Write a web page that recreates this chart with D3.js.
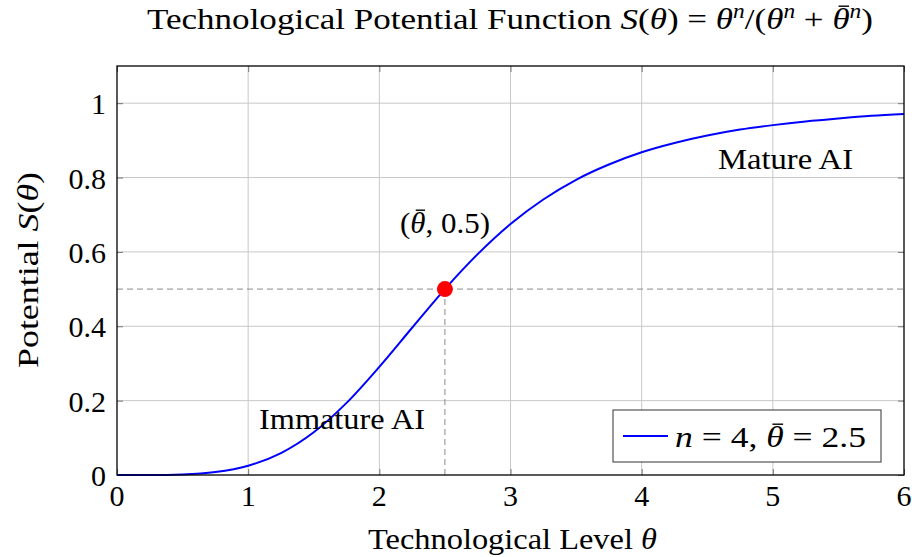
<!DOCTYPE html>
<html><head><meta charset="utf-8">
<script src="https://cdn.jsdelivr.net/npm/d3@7"></script>
<style>
body{margin:0;background:#fff;}
svg text{font-family:"Liberation Serif","Times New Roman",serif;fill:#000;}
</style></head>
<body><svg id="c" width="912" height="557"></svg>
<script>
// data
const theta = [0,0.25,0.5,0.75,1.0,1.25,1.5,1.75,2.0,2.25,2.5,2.75,3.0,3.25,3.5,3.75,4.0,4.25,4.5,4.75,5.0,5.25,5.5,5.75,6.0];
const potential = [0,0.0001,0.0016,0.008,0.025,0.059,0.115,0.194,0.291,0.396,0.5,0.594,0.675,0.741,0.794,0.835,0.868,0.893,0.913,0.929,0.941,0.951,0.959,0.966,0.971];
const xTicks = [0,1,2,3,4,5,6];
const yTicks = [0,0.2,0.4,0.6,0.8,1];
const yTickLabels = ["0","0.2","0.4","0.6","0.8","1"];
const marker = {theta:2.5, s:0.5};

const svg = d3.select("#c");
const L=117,R=904,T=66,B=475;
const FS=30;
const x = d3.scaleLinear().domain([0,6]).range([L,R]);
const y = d3.scaleLinear().domain([0,1.1]).range([B,T]);

// grid
svg.append("g").selectAll("line").data(xTicks.slice(1,-1)).join("line")
  .attr("x1",d=>x(d)).attr("x2",d=>x(d)).attr("y1",T).attr("y2",B)
  .attr("stroke","#c8c8c8").attr("stroke-width",1);
svg.append("g").selectAll("line").data(yTicks.slice(1)).join("line")
  .attr("x1",L).attr("x2",R).attr("y1",d=>y(d)).attr("y2",d=>y(d))
  .attr("stroke","#c8c8c8").attr("stroke-width",1);

// dashed guides
svg.append("line").attr("x1",x(0)).attr("x2",x(6)).attr("y1",y(marker.s)).attr("y2",y(marker.s))
  .attr("stroke","#8a8a8a").attr("stroke-dasharray","6,4").attr("stroke-width",1);
svg.append("line").attr("x1",x(marker.theta)).attr("x2",x(marker.theta)).attr("y1",y(0)).attr("y2",y(marker.s))
  .attr("stroke","#8a8a8a").attr("stroke-dasharray","6,4").attr("stroke-width",1);

// axis ticks (inside)
function styleAxis(g){g.select(".domain").remove();g.selectAll("line").attr("stroke","#777");}
svg.append("g").attr("transform",`translate(0,${B})`).call(d3.axisBottom(x).tickValues(xTicks).tickSize(-6).tickFormat("")).call(styleAxis);
svg.append("g").attr("transform",`translate(${L},0)`).call(d3.axisLeft(y).tickValues(yTicks).tickSize(-6).tickFormat("")).call(styleAxis);
svg.append("g").attr("transform",`translate(0,${T})`).call(d3.axisTop(x).tickValues(xTicks).tickSize(-6).tickFormat("")).call(styleAxis);
svg.append("g").attr("transform",`translate(${R},0)`).call(d3.axisRight(y).tickValues(yTicks).tickSize(-6).tickFormat("")).call(styleAxis);

// tick labels
svg.append("g").selectAll("text").data(xTicks).join("text")
  .attr("x",d=>x(d)).attr("y",B+31).attr("text-anchor","middle").attr("font-size",FS).text(d=>d);
svg.append("g").selectAll("text").data(yTicks).join("text")
  .attr("x",L-11).attr("y",d=>y(d)+11).attr("text-anchor","end").attr("font-size",FS).text((d,i)=>yTickLabels[i]);

// curve
const line = d3.line().x((d,i)=>x(theta[i])).y(d=>y(d)).curve(d3.curveMonotoneX);
svg.append("path").datum(potential).attr("d",line).attr("fill","none").attr("stroke","#0000ff").attr("stroke-width",2);

// frame
svg.append("rect").attr("x",L).attr("y",T).attr("width",R-L).attr("height",B-T)
  .attr("fill","none").attr("stroke","#000").attr("stroke-width",1.3);

// marker
svg.append("circle").attr("cx",x(marker.theta)).attr("cy",y(marker.s)).attr("r",8).attr("fill","#ff0000");

function fit(sel,w){sel.attr("textLength",w).attr("lengthAdjust","spacingAndGlyphs");return sel;}

// annotations
const ann = svg.append("text").attr("x",400).attr("y",233).attr("font-size",FS);
ann.append("tspan").text("(");
ann.append("tspan").attr("class","bar").attr("font-style","italic").text("θ");
ann.append("tspan").text(", 0.5)");
fit(ann,90);
fit(svg.append("text").attr("x",718).attr("y",169).attr("font-size",FS).text("Mature AI"),135);
fit(svg.append("text").attr("x",259).attr("y",429).attr("font-size",FS).text("Immature AI"),166);

// legend
svg.append("rect").attr("x",613).attr("y",410).attr("width",268).attr("height",52).attr("fill","#fff").attr("stroke","#333").attr("stroke-width",1);
svg.append("line").attr("x1",623).attr("x2",668).attr("y1",436).attr("y2",436).attr("stroke","#0000ff").attr("stroke-width",2);
const lg = svg.append("text").attr("x",675).attr("y",447).attr("font-size",FS);
lg.append("tspan").attr("font-style","italic").text("n");
lg.append("tspan").text(" = 4, ");
lg.append("tspan").attr("class","bar").attr("font-style","italic").text("θ");
lg.append("tspan").text(" = 2.5");
fit(lg,191);

// title
const tt = svg.append("text").attr("x",147).attr("y",29).attr("font-size",FS);
tt.append("tspan").text("Technological Potential Function ");
tt.append("tspan").attr("font-style","italic").text("S");
tt.append("tspan").text("(");
tt.append("tspan").attr("font-style","italic").text("θ");
tt.append("tspan").text(") = ");
tt.append("tspan").attr("font-style","italic").text("θ");
tt.append("tspan").attr("font-style","italic").attr("font-size",20).attr("dy",-11).text("n");
tt.append("tspan").attr("dy",11).text("/(");
tt.append("tspan").attr("font-style","italic").text("θ");
tt.append("tspan").attr("font-style","italic").attr("font-size",20).attr("dy",-11).text("n");
tt.append("tspan").attr("dy",11).text(" + ");
tt.append("tspan").attr("class","bar").attr("font-style","italic").text("θ");
tt.append("tspan").attr("font-style","italic").attr("font-size",20).attr("dy",-11).text("n");
tt.append("tspan").attr("dy",11).text(")");
fit(tt,726);

// x label
const xl = svg.append("text").attr("x",368).attr("y",549).attr("font-size",FS);
xl.append("tspan").text("Technological Level ");
xl.append("tspan").attr("font-style","italic").text("θ");
fit(xl,289);

// y label
const yl = svg.append("text").attr("transform","translate(38,368) rotate(-90)").attr("x",0).attr("y",0).attr("font-size",FS);
yl.append("tspan").text("Potential ");
yl.append("tspan").attr("font-style","italic").text("S");
yl.append("tspan").text("(");
yl.append("tspan").attr("font-style","italic").text("θ");
yl.append("tspan").text(")");
fit(yl,196);

// macrons over theta-bar glyphs
svg.selectAll("tspan.bar").each(function(){
  const t = this.parentNode;
  let bb;
  try { bb = this.getBBox(); } catch(e) { bb = null; }
  if(!bb || !bb.width){
    // fallback: find char index
    let idx=0; for(const n of t.childNodes){ if(n===this) break; idx += n.textContent.length; }
    bb = t.getExtentOfChar(idx);
  }
  const base = +t.getAttribute("y");
  svg.append("line")
    .attr("x1",bb.x+bb.width*0.35).attr("x2",bb.x+bb.width*0.95)
    .attr("y1",base-FS*0.76).attr("y2",base-FS*0.76)
    .attr("stroke","#000").attr("stroke-width",1.4);
});
</script></body></html>
